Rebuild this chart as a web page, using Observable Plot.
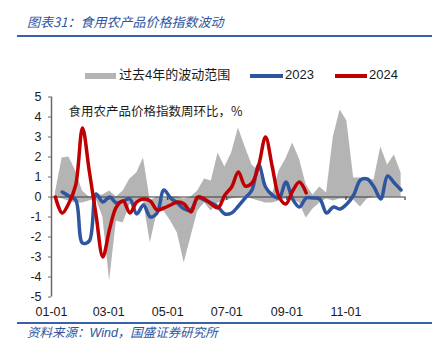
<!DOCTYPE html>
<html>
<head>
<meta charset="utf-8">
<script src="https://cdn.jsdelivr.net/npm/d3@7"></script>
<script src="https://cdn.jsdelivr.net/npm/@observablehq/plot@0.6"></script>
<style>
  html, body { margin: 0; padding: 0; background: #fff; }
  #wrap { position: relative; width: 437px; height: 355px; overflow: hidden;
          font-family: "Liberation Sans", Arial, "Noto Sans CJK SC", sans-serif; color: #1a1a1a; }
  .abs { position: absolute; white-space: nowrap; }
  .title { left: 27px; top: 14px; font-size: 13px; line-height: 16px; font-style: italic; color: #2e54a0;
           font-family: "Noto Sans CJK SC", sans-serif; }
  .rule { left: 17px; width: 415px; height: 2px; background: #3a62a8; }
  .src { left: 27px; top: 326px; font-size: 12.5px; line-height: 15px; font-style: italic; color: #2e54a0;
         font-family: "Liberation Sans", "Noto Sans CJK SC", sans-serif; }
  .leg { font-size: 13px; line-height: 16px; top: 67px; font-family: "Liberation Sans", "Noto Sans CJK SC", sans-serif; }
  #chart { position: absolute; left: 0; top: 90px; }
</style>
</head>
<body>
<div id="wrap">
  <div class="abs title">图表31：食用农产品价格指数波动</div>
  <div class="abs rule" style="top:35px"></div>
  <div class="abs" style="left:85px;top:72.5px;width:31px;height:6px;background:#b4b4b4"></div>
  <div class="abs leg" style="left:119px">过去4年的波动范围</div>
  <div class="abs" style="left:250px;top:73.5px;width:33px;height:4px;background:#2e55a0"></div>
  <div class="abs leg" style="left:285px">2023</div>
  <div class="abs" style="left:335px;top:73.5px;width:32px;height:4px;background:#c00000"></div>
  <div class="abs leg" style="left:369px">2024</div>
  <div id="chart"></div>
  <div class="abs rule" style="top:322px"></div>
  <div class="abs src">资料来源：Wind，国盛证券研究所</div>
</div>
<script>
// Weekly observation dates (month-day)
const weeks = ["01-05","01-12","01-19","01-26","02-02","02-09","02-16","02-23",
  "03-02","03-09","03-16","03-23","03-30","04-06","04-13","04-20","04-27",
  "05-04","05-11","05-18","05-25","06-01","06-08","06-15","06-22","06-29",
  "07-06","07-13","07-20","07-27","08-03","08-10","08-17","08-24","08-31",
  "09-07","09-14","09-21","09-28","10-05","10-12","10-19","10-26",
  "11-02","11-09","11-16","11-23","11-30","12-07","12-14","12-21","12-28"];

// Range of the past 4 years (min / max), %
const rangeMax = [0.2,1.95,2.0,1.3,0.3,0.0,0.1,0.1,0.3,0.0,0.3,0.9,1.2,1.95,-0.2,0.0,-0.1,0.0,0.0,-0.1,
  0.0,0.3,0.9,0.8,2.2,1.5,2.2,3.45,2.5,1.6,1.3,0.4,0.1,1.3,1.9,2.7,1.9,0.6,0.1,0.5,
  0.2,3.0,4.35,3.8,0.95,0.95,0.9,0.85,2.5,1.6,2.1,1.2];
const rangeMin = [0.0,-0.1,-0.2,-0.3,-0.3,-0.2,-0.1,-1.0,-4.2,-1.2,-1.3,-0.4,-0.3,-0.2,-2.3,-0.8,-0.7,-1.2,-1.8,-3.3,
  -2.0,-0.7,-0.3,-0.7,-0.3,-0.2,-0.1,-0.05,0.0,-0.1,-0.2,-0.3,-0.3,-0.2,-0.1,-0.1,-0.3,-1.05,-0.6,-0.3,
  -0.1,-0.2,-0.1,-0.1,-0.15,-0.5,-0.1,0.0,0.0,0.0,0.0,0.0];

// 2023 weekly change, % (no first week)
const s2023 = [null,0.25,0.05,-0.15,-2.3,-2.2,0.15,-0.25,0.0,-0.3,-0.2,-0.1,-0.85,-0.4,-1.0,-0.8,0.35,-0.05,-0.3,-0.6,
  -0.65,-0.05,-0.15,-0.3,-0.5,-0.85,-0.8,-0.45,-0.05,0.35,1.6,0.5,0.1,-0.05,0.75,-0.1,-0.5,-0.05,-0.05,-0.1,
  -0.8,-0.5,-0.6,-0.35,0.1,0.85,0.9,0.5,-0.1,1.05,0.7,0.35];

// 2024 weekly change, % (to mid-September)
const s2024 = [0.0,-0.8,-0.3,0.6,3.45,1.3,-0.9,-3.0,-1.6,-0.5,-0.2,-0.8,-0.25,-0.1,-0.2,-0.65,-0.55,-0.4,-0.25,-0.35,
  -0.75,0.0,-0.1,-0.35,-0.55,0.1,0.5,1.25,0.55,0.7,1.6,3.0,1.5,0.0,-0.35,0.3,0.75,0.2];

const tickLabels = ["01-01","03-01","05-01","07-01","09-01","11-01"];
const yTicks = [-5,-4,-3,-2,-1,0,1,2,3,4,5];
const chartTitle = "食用农产品价格指数周环比，%";

const toDate = md => new Date(Date.UTC(2023, +md.slice(0,2) - 1, +md.slice(3,5)));
const band = weeks.map((w, i) => ({date: toDate(w), lo: rangeMin[i], hi: rangeMax[i]}));
const d23 = weeks.map((w, i) => ({date: toDate(w), v: s2023[i]})).filter(d => d.v != null);
const d24 = s2024.map((v, i) => ({date: toDate(weeks[i]), v}));
const tickDates = tickLabels.map(toDate);
const zeroTicks = [...tickDates, new Date(Date.UTC(2024, 0, 1))];
const xStart = new Date(Date.UTC(2023, 0, 1)), xEnd = new Date(Date.UTC(2024, 0, 1));

const chart = Plot.plot({
  width: 437,
  height: 232,
  marginLeft: 51,
  marginRight: 32.5,
  marginTop: 6.5,
  marginBottom: 25.5,
  style: {fontFamily: '"Liberation Sans", Arial, sans-serif', fontSize: "12.5px", color: "#1a1a1a", background: "transparent"},
  x: {type: "utc", domain: [xStart, xEnd]},
  y: {domain: [-5, 5]},
  marks: [
    Plot.areaY(band, {x: "date", y1: "lo", y2: "hi", fill: "#b4b4b4", curve: "linear"}),
    Plot.ruleY([0], {stroke: "#3a3a3a", strokeWidth: 1.2}),
    Plot.ruleX(zeroTicks, {x: d => d, y1: 0, y2: -0.18, stroke: "#3a3a3a", strokeWidth: 1.2}),
    Plot.ruleX([xStart], {y1: -5, y2: 5, stroke: "#6b6b6b", strokeWidth: 1.5}),
    Plot.lineY(d23, {x: "date", y: "v", stroke: "#2e55a0", strokeWidth: 3.5, curve: "catmull-rom"}),
    Plot.lineY(d24, {x: "date", y: "v", stroke: "#c00000", strokeWidth: 3.5, curve: "catmull-rom"}),
    Plot.axisY({ticks: yTicks, tickSize: 3, tickPadding: 7, tickFormat: d => String(d), stroke: "#6b6b6b", fill: "#1a1a1a"}),
    Plot.axisX({ticks: tickDates, tickSize: 0, tickPadding: 10, tickFormat: d3.utcFormat("%m-%d"), fill: "#1a1a1a"}),
    Plot.text([chartTitle], {frameAnchor: "top-left", dx: 17, dy: 15, lineAnchor: "middle", textAnchor: "start",
      fontSize: 12.5, fill: "#1a1a1a", fontFamily: '"Noto Sans CJK SC", sans-serif'})
  ]
});
document.getElementById("chart").appendChild(chart);
</script>
</body>
</html>
